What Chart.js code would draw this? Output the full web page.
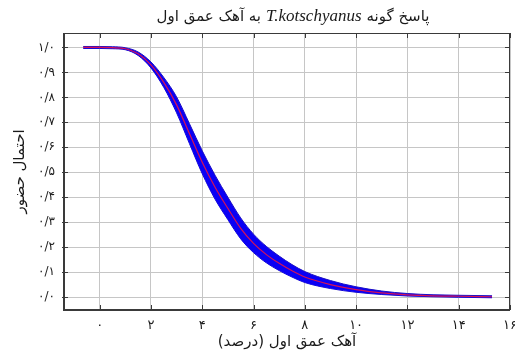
<!DOCTYPE html>
<html>
<head>
<meta charset="utf-8">
<script src="https://cdn.jsdelivr.net/npm/chart.js@4/dist/chart.umd.min.js"></script>
<style>
	html, body { margin: 0; padding: 0; background: #fff; }
	canvas { display: block; }
</style>
</head>
<body>
<canvas id="responseChart" width="515" height="356" dir="rtl"></canvas>
<script>
// آهک عمق اول (درصد)
const lime = [-0.64, 0, 0.5, 1, 1.5, 2, 2.5, 3, 3.5, 4, 4.5, 5, 5.5, 6, 6.5, 7, 7.5, 8, 9, 10, 11, 12, 13, 14, 15.3]
// fitted probability and its band
const fitted = [1.0, 1.0, 0.999, 0.995, 0.975, 0.93, 0.86, 0.77, 0.655, 0.54, 0.44, 0.355, 0.275, 0.215, 0.17, 0.135, 0.105, 0.08, 0.05, 0.03, 0.017, 0.009, 0.005, 0.003, 0.001]
const upper = [1.004, 1.004, 1.003, 0.999, 0.982, 0.942, 0.88, 0.802, 0.695, 0.586, 0.488, 0.4, 0.317, 0.252, 0.203, 0.164, 0.13, 0.102, 0.066, 0.041, 0.024, 0.014, 0.009, 0.007, 0.005]
const lower = [0.996, 0.996, 0.995, 0.991, 0.968, 0.918, 0.84, 0.738, 0.615, 0.494, 0.392, 0.31, 0.233, 0.178, 0.137, 0.106, 0.08, 0.058, 0.034, 0.019, 0.01, 0.004, 0.001, -0.001, -0.003]

const xTicks = [0, 2, 4, 6, 8, 10, 12, 14, 16]
const xTickLabels = ['۰', '۲', '۴', '۶', '۸', '۱۰', '۱۲', '۱۴', '۱۶']
const yTicks = [0, 0.1, 0.2, 0.3, 0.4, 0.5, 0.6, 0.7, 0.8, 0.9, 1.0]
const yTickLabels = ['۰/۰', '۰/۱', '۰/۲', '۰/۳', '۰/۴', '۰/۵', '۰/۶', '۰/۷', '۰/۸', '۰/۹', '۱/۰']

const titleRight = 'پاسخ گونه'
const titleSpecies = 'T.kotschyanus'
const titleLeft = 'به آهک عمق اول'

const toPoints = values => lime.map((x, i) => ({ x: x, y: values[i] }))

// box with inward ticks on all sides
const framePlugin = {
	id: 'frame',
	afterDraw(chart) {
		const { ctx, chartArea: a, scales } = chart
		ctx.save()
		ctx.strokeStyle = '#3a3a3a'
		ctx.lineWidth = 1
		ctx.strokeRect(a.left + 0.5, a.top + 0.5, a.width - 1, a.height - 1)
		ctx.lineWidth = 2
		ctx.beginPath()
		ctx.moveTo(a.left, a.top)
		ctx.lineTo(a.left, a.bottom)
		ctx.lineTo(a.right, a.bottom)
		ctx.stroke()
		ctx.lineWidth = 1
		ctx.beginPath()
		xTicks.forEach(v => {
			const px = Math.round(scales.x.getPixelForValue(v)) + 0.5
			ctx.moveTo(px, a.top)
			ctx.lineTo(px, a.top + 5)
			ctx.moveTo(px, a.bottom)
			ctx.lineTo(px, a.bottom - 5)
		})
		yTicks.forEach(v => {
			const py = Math.round(scales.y.getPixelForValue(v)) + 0.5
			ctx.moveTo(a.left - 2, py)
			ctx.lineTo(a.left + 4, py)
			ctx.moveTo(a.right, py)
			ctx.lineTo(a.right - 5, py)
		})
		ctx.stroke()
		ctx.restore()
	},
}

// title with the species name in italics, laid out right to left
const titlePlugin = {
	id: 'mixedTitle',
	afterDraw(chart) {
		const { ctx, chartArea: a } = chart
		const faFont = '15px "DejaVu Sans"'
		const latFont = 'italic 17px "Liberation Serif"'
		const gap = 5
		ctx.save()
		ctx.fillStyle = '#1a1a1a'
		ctx.textBaseline = 'middle'
		ctx.direction = 'rtl'
		ctx.font = faFont
		const w1 = ctx.measureText(titleRight).width
		const w3 = ctx.measureText(titleLeft).width
		ctx.font = latFont
		const w2 = ctx.measureText(titleSpecies).width
		const total = w1 + w2 + w3 + gap * 2
		const center = (a.left + a.right) / 2 + 6
		let xr = center + total / 2
		const y = 17
		ctx.textAlign = 'right'
		ctx.font = faFont
		ctx.fillText(titleRight, xr, y)
		xr -= w1 + gap
		ctx.direction = 'ltr'
		ctx.font = latFont
		ctx.fillText(titleSpecies, xr, y)
		xr -= w2 + gap
		ctx.direction = 'rtl'
		ctx.font = faFont
		ctx.fillText(titleLeft, xr, y)
		ctx.restore()
	},
}

const ctx = document.getElementById('responseChart').getContext('2d')
const responseChart = new Chart(ctx, {
	type: 'line',
	data: {
		datasets: [
			{
				label: 'fitted',
				data: toPoints(fitted),
				borderColor: 'rgba(235, 20, 70, 0.9)',
				borderWidth: 1.2,
				pointRadius: 0,
				fill: false,
				cubicInterpolationMode: 'monotone',
			},
			{
				label: 'upper',
				data: toPoints(upper),
				borderColor: '#1c0fc4',
				backgroundColor: '#0a00f5',
				borderWidth: 1,
				pointRadius: 0,
				fill: '+1',
				cubicInterpolationMode: 'monotone',
			},
			{
				label: 'lower',
				data: toPoints(lower),
				borderColor: '#1c0fc4',
				borderWidth: 1,
				pointRadius: 0,
				fill: false,
				cubicInterpolationMode: 'monotone',
			},
		],
	},
	options: {
		responsive: false,
		animation: false,
		layout: { padding: { top: 33, right: 5, left: 0, bottom: 0 } },
		plugins: {
			legend: { display: false },
			tooltip: { enabled: false },
			title: { display: false },
		},
		scales: {
			x: {
				type: 'linear',
				min: -1.39,
				max: 16,
				afterBuildTicks: scale => {
					scale.ticks = xTicks.map(v => ({ value: v }))
				},
				afterFit: scale => {
					scale.height = 46
					scale.paddingLeft = 0
					scale.paddingRight = 0
				},
				grid: { color: '#c6c6c6', lineWidth: 1, drawTicks: false },
				border: { display: false },
				ticks: {
					padding: 8,
					color: '#1a1a1a',
					font: { family: 'DejaVu Sans', size: 13 },
					maxRotation: 0,
					callback: (value, index) => xTickLabels[index],
				},
				title: {
					display: true,
					text: 'آهک عمق اول (درصد)',
					color: '#1a1a1a',
					font: { family: 'DejaVu Sans', size: 15 },
					padding: { top: 0, bottom: 5 },
				},
			},
			y: {
				min: -0.052,
				max: 1.058,
				afterBuildTicks: scale => {
					scale.ticks = yTicks.map(v => ({ value: v }))
				},
				afterFit: scale => {
					scale.width = 64
					scale.paddingTop = 0
					scale.paddingBottom = 0
				},
				grid: { color: '#c6c6c6', lineWidth: 1, drawTicks: false },
				border: { display: false },
				ticks: {
					padding: 9,
					color: '#1a1a1a',
					font: { family: 'DejaVu Sans', size: 12 },
					callback: (value, index) => yTickLabels[index],
				},
				title: {
					display: true,
					text: 'احتمال حضور',
					color: '#1a1a1a',
					font: { family: 'DejaVu Sans', size: 15 },
					padding: { top: 11, bottom: 0 },
				},
			},
		},
	},
	plugins: [framePlugin, titlePlugin],
})
</script>
</body>
</html>
